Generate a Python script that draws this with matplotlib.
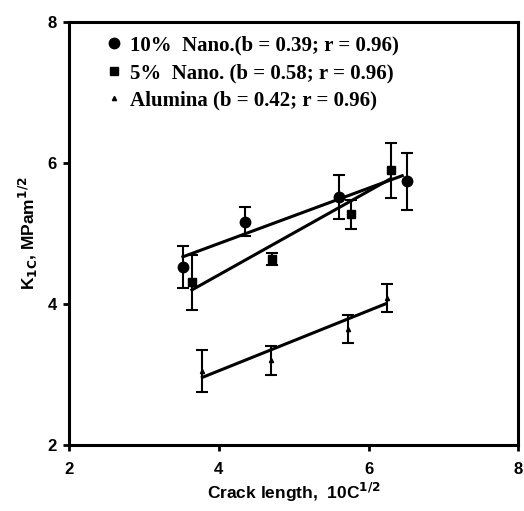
import numpy as np
import matplotlib
matplotlib.use('Agg')
import matplotlib.pyplot as plt

# 10% nano
x_10 = [3.52, 4.35, 5.60, 6.52]
y_10 = [4.53, 5.17, 5.52, 5.74]
e_10 = [0.30, 0.20, 0.31, 0.40]
fit_x_10 = [3.52, 6.45]
fit_y_10 = [4.67, 5.82]

# 5% nano
x_5 = [3.64, 4.71, 5.77, 6.30]
y_5 = [4.31, 4.64, 5.27, 5.90]
e_5 = [0.39, 0.08, 0.20, 0.39]
fit_x_5 = [3.64, 6.30]
fit_y_5 = [4.20, 5.78]

# alumina
x_al = [3.78, 4.69, 5.72, 6.25]
y_al = [3.05, 3.20, 3.65, 4.09]
e_al = [0.30, 0.20, 0.20, 0.20]
fit_x_al = [3.78, 6.22]
fit_y_al = [2.96, 4.00]

labels = ['10%  Nano.(b = 0.39; r = 0.96)',
          '5%  Nano. (b = 0.58; r = 0.96)',
          'Alumina (b = 0.42; r = 0.96)']

fig = plt.figure(figsize=(5.24, 5.11), dpi=100)
ax = fig.add_axes([0.132, 0.129, 0.857, 0.828])

# fit lines
ax.plot(fit_x_10, fit_y_10, color='k', lw=2.2)
ax.plot(fit_x_5, fit_y_5, color='k', lw=2.2)
ax.plot(fit_x_al, fit_y_al, color='k', lw=2.2)

# error bars
for x, y, e in [(x_10, y_10, e_10), (x_5, y_5, e_5), (x_al, y_al, e_al)]:
	ax.errorbar(x, y, yerr=e, fmt='none', ecolor='k', elinewidth=1.5, capsize=4.3, capthick=1.5)

h1, = ax.plot(x_10, y_10, 'o', color='k', ms=7.5, label=labels[0])
h2, = ax.plot(x_5, y_5, 's', color='k', ms=6, label=labels[1])
h3, = ax.plot(x_al, y_al, '^', color='k', ms=3, label=labels[2])

leg = ax.legend(handles=[h1, h2, h3], loc='upper left', bbox_to_anchor=(0.045, 1.012),
	frameon=False, handlelength=0.6, handletextpad=0.45, labelspacing=0.36,
	prop={'family': 'Liberation Serif', 'weight': 'bold', 'size': 15})

ax.set_xlim(2, 8)
ax.set_ylim(2, 8)
ax.set_xticks([2, 4, 6, 8])
ax.set_yticks([2, 4, 6, 8])

for s in ax.spines.values():
	s.set_linewidth(2.2)

ax.tick_params(direction='out', length=4, width=2, labelsize=12)
ax.tick_params(axis='x', pad=8)
ax.tick_params(axis='y', pad=5)
for lab in ax.get_xticklabels() + ax.get_yticklabels():
	lab.set_fontfamily('Liberation Sans')
	lab.set_fontweight('bold')

ax.set_xlabel('Crack length,  10C$^{\\mathbf{1/2}}$', fontfamily='Liberation Sans',
	fontweight='bold', fontsize=12.5, labelpad=3)
ax.set_ylabel('K$_{\\mathbf{1C}}$, MPam$^{\\mathbf{1/2}}$', fontfamily='Liberation Sans',
	fontweight='bold', fontsize=12.5, labelpad=5)

fig.savefig('out.png', dpi=100)
